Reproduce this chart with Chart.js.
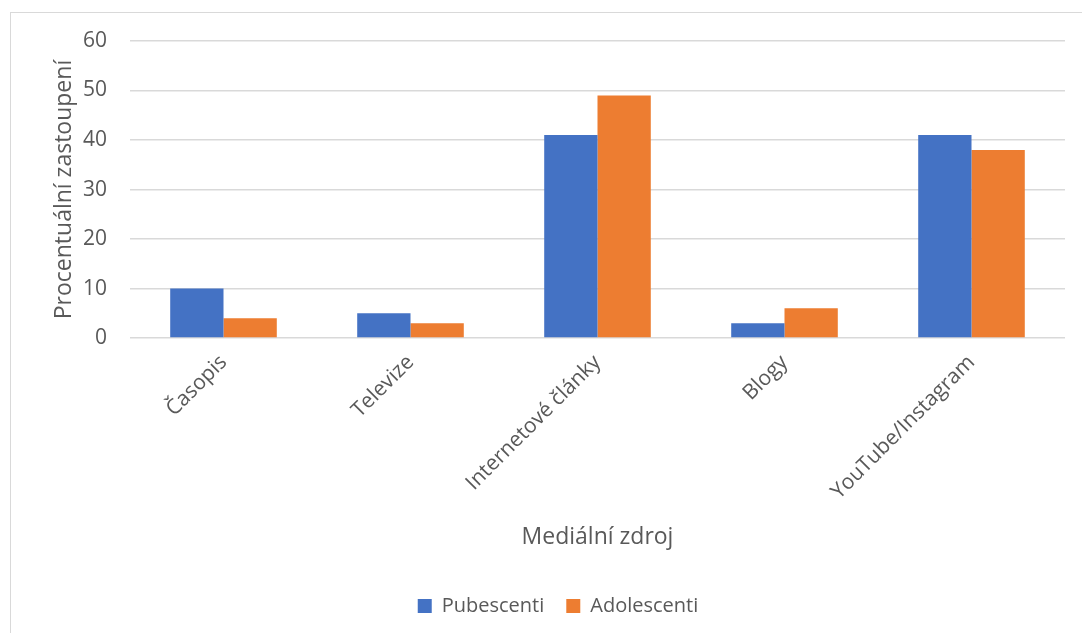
<!DOCTYPE html>
<html>
<head>
<meta charset="utf-8">
<script src="https://cdn.jsdelivr.net/npm/chart.js@4/dist/chart.umd.min.js"></script>
<style>
    html, body { margin: 0; padding: 0; background: #fff; }
    #frame {
        position: absolute;
        left: 10px;
        top: 12px;
        width: 1090px;
        height: 640px;
        border: 1px solid #d9d9d9;
    }
    #wrap { position: absolute; left: 0; top: 0; width: 1082px; height: 633px; }
</style>
</head>
<body>
<div id="frame"></div>
<div id="wrap"><canvas id="chart" width="1082" height="633"></canvas></div>
<script>
    const categories = ['Časopis', 'Televize', 'Internetové články', 'Blogy', 'YouTube/Instagram'];
    const pubescenti = [10, 5, 41, 3, 41];
    const adolescenti = [4, 3, 49, 6, 38];
    const yTicks = [0, 10, 20, 30, 40, 50, 60];

    const textColor = '#595959';
    const fontFamily = '"Open Sans", "Liberation Sans", sans-serif';

    new Chart(document.getElementById('chart'), {
        type: 'bar',
        data: {
            labels: categories,
            datasets: [
                {
                    label: 'Pubescenti',
                    data: pubescenti,
                    backgroundColor: '#4472C4',
                    barPercentage: 1.0,
                    categoryPercentage: 0.57
                },
                {
                    label: 'Adolescenti',
                    data: adolescenti,
                    backgroundColor: '#ED7D31',
                    barPercentage: 1.0,
                    categoryPercentage: 0.57
                }
            ]
        },
        options: {
            responsive: false,
            animation: false,
            layout: {
                padding: { left: 51, right: 17, top: 41, bottom: 7 }
            },
            plugins: {
                tooltip: { enabled: false },
                legend: {
                    position: 'bottom',
                    labels: {
                        color: textColor,
                        font: { family: fontFamily, size: 20 },
                        boxWidth: 14,
                        boxHeight: 14,
                        padding: 22
                    }
                }
            },
            scales: {
                x: {
                    // rotated labels fit inside the plot width, no extra side padding
                    afterFit: function (axis) {
                        axis.paddingLeft = 0;
                        axis.paddingRight = 0;
                    },
                    grid: { display: false, drawTicks: false },
                    border: { display: false },
                    ticks: {
                        color: textColor,
                        font: { family: fontFamily, size: 21 },
                        minRotation: 45,
                        maxRotation: 45,
                        padding: 12
                    },
                    title: {
                        display: true,
                        text: 'Mediální zdroj',
                        color: textColor,
                        font: { family: fontFamily, size: 23 },
                        padding: { top: 7, bottom: 23 }
                    }
                },
                y: {
                    min: 0,
                    max: 60,
                    afterBuildTicks: function (axis) {
                        axis.ticks = yTicks.map(function (v) { return { value: v }; });
                    },
                    afterFit: function (axis) {
                        axis.width = 79;
                    },
                    grid: { color: '#d9d9d9', lineWidth: 1.5, drawTicks: false },
                    border: { display: false },
                    ticks: {
                        color: textColor,
                        font: { family: fontFamily, size: 21 },
                        padding: 23
                    },
                    title: {
                        display: true,
                        text: 'Procentuální zastoupení',
                        color: textColor,
                        font: { family: fontFamily, size: 23 },
                        padding: { top: 0, bottom: 4 }
                    }
                }
            }
        }
    });
</script>
</body>
</html>
